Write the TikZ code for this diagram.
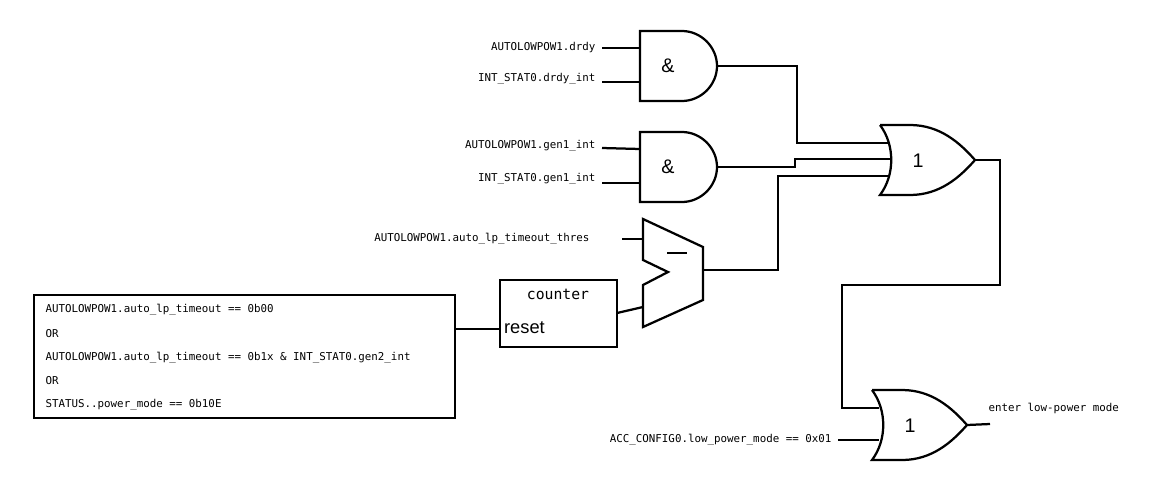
\documentclass[tikz,border=0pt]{standalone}
\usepackage{fontspec}
\setmainfont{Liberation Sans}
\setmonofont{DejaVu Sans Mono}
\usetikzlibrary{positioning}

\begin{document}
\begin{tikzpicture}[x=0.025cm,y=-0.025cm,line width=1.6pt,
    sig/.style = {font=\ttfamily\fontsize{7.7}{9}\selectfont, inner sep=1pt},
    gatelbl/.style = {font=\fontsize{14}{16}\selectfont}]
\useasboundingbox (0,0) rectangle (1151,494);

% AND gates
\foreach \n/\y in {andA/31, andB/132} {
   \draw (640,\y) -- (682,\y) .. controls (701,\y) and (717,\y+16) .. (717,\y+35)
         .. controls (717,\y+54) and (701,\y+70) .. (682,\y+70) -- (640,\y+70) -- cycle;
   \node[gatelbl] (\n) at (668,\y+35) {\&};
   \coordinate (\n-i1) at (640,\y+17);
   \coordinate (\n-i2) at (640,\y+51);
   \coordinate (\n-o) at (717,\y+35);
}
% OR gates
\foreach \n/\x/\y in {orA/880/125, orB/872/390} {
   \draw (\x,\y) -- (\x+30,\y) .. controls (\x+60,\y) and (\x+80,\y+18) .. (\x+95,\y+35)
         .. controls (\x+80,\y+52) and (\x+60,\y+70) .. (\x+30,\y+70) -- (\x,\y+70)
         .. controls (\x+15,\y+50) and (\x+15,\y+20) .. (\x,\y);
   \node[gatelbl] (\n) at (\x+38,\y+36) {1};
   \coordinate (\n-o) at (\x+95,\y+35);
}
\coordinate (orA-i1) at (888,143);
\coordinate (orA-i2) at (890,159);
\coordinate (orA-i3) at (888,176);
\coordinate (orB-i1) at (879,408);
\coordinate (orB-i2) at (879,440);

% comparator
\draw (643,219) -- (703,247) -- (703,300) -- (643,327) -- (643,285) -- (668,272) -- (643,260) -- cycle;
\draw (667,253) -- (687,253);
\coordinate (cmp-a) at (643,239);
\coordinate (cmp-b) at (643,307);
\coordinate (cmp-o) at (703,270);

% counter
\draw (500,280) rectangle (617,347);
\node[font=\ttfamily\fontsize{10.5}{12}\selectfont] (cnt) at (558,294) {counter};
\node[font=\fontsize{13}{15}\selectfont, anchor=west, inner sep=0pt] (rst) at (503,328) {reset};
\coordinate (cnt-o) at (617,313);
\coordinate (cnt-r) at (500,329);

% reset condition
\draw[line width=1pt] (34,295) rectangle (455,418);
\node[sig, anchor=west] (c1) at (43,310) {AUTOLOWPOW1.auto\_lp\_timeout == 0b00};
\node[sig, anchor=west] (c2) at (43,334) {OR};
\node[sig, anchor=west] (c3) at (43,358) {AUTOLOWPOW1.auto\_lp\_timeout == 0b1x \& INT\_STAT0.gen2\_int};
\node[sig, anchor=west] (c4) at (43,381) {OR};
\node[sig, anchor=west] (c5) at (43,405) {STATUS..power\_mode == 0b10E};
\coordinate (cond-o) at (455,329);

% input labels
\node[sig, anchor=east] (in1) at (598,48) {AUTOLOWPOW1.drdy};
\node[sig, anchor=east] (in2) at (598,79) {INT\_STAT0.drdy\_int};
\node[sig, anchor=east] (in3) at (598,146) {AUTOLOWPOW1.gen1\_int};
\node[sig, anchor=east] (in4) at (598,179) {INT\_STAT0.gen1\_int};
\node[sig, anchor=east] (in5) at (592,239) {AUTOLOWPOW1.auto\_lp\_timeout\_thres};
\node[sig, anchor=east] (in6) at (834,440) {ACC\_CONFIG0.low\_power\_mode == 0x01};
\node[sig, anchor=west] (out) at (986,408) {enter low-power mode};

% wires
\draw (602,48) -- (andA-i1);
\draw (602,82) -- (andA-i2);
\draw (602,148) -- (andB-i1);
\draw (602,183) -- (andB-i2);
\draw (622,239) -- (cmp-a);
\draw (838,440) -- (orB-i2);
\draw (andA-o) -- (797,66) |- (orA-i1);
\draw (andB-o) -- (795,167) |- (orA-i2);
\draw (cmp-o) -- (778,270) |- (orA-i3);
\draw (orA-o) -- (1000,160) -- (1000,285) -- (842,285) |- (orB-i1);
\draw (orB-o) -- (990,424);
\draw (cnt-o) -- (cmp-b);
\draw (cond-o) -- (cnt-r);
\end{tikzpicture}
\end{document}
